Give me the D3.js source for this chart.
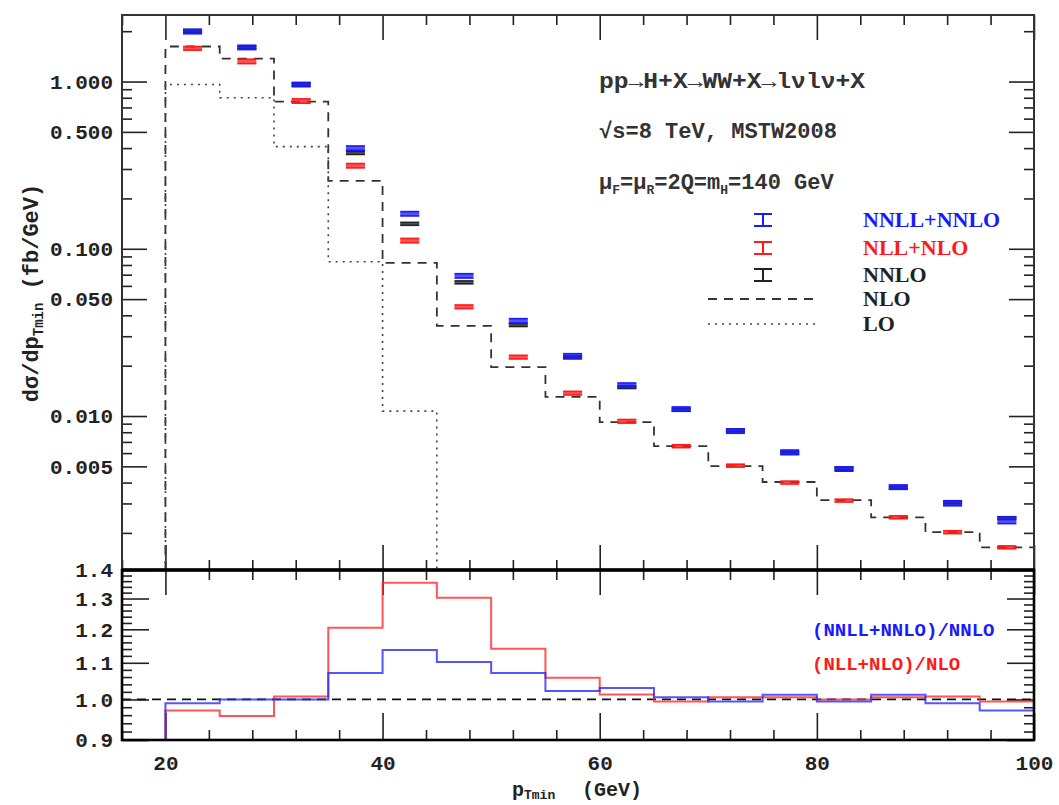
<!DOCTYPE html>
<html><head><meta charset="utf-8">
<script src="https://cdn.jsdelivr.net/npm/d3@7/dist/d3.min.js"></script>
<style>body{margin:0;background:#fff}svg{display:block}</style>
</head><body>
<svg id="chart" width="1059" height="805"></svg>
<script>
// ---------------- data ----------------
const binEdges   = [20,25,30,35,40,45,50,55,60,65,70,75,80,85,90,95,100];
const binCenters = [22.5,27.5,32.5,37.5,42.5,47.5,52.5,57.5,62.5,67.5,72.5,77.5,82.5,87.5,92.5,97.5];
const nnllNnlo = [1.99,1.60,0.96,0.40,0.162,0.0689,0.0371,0.0229,0.0153,0.0110,0.00813,0.00608,0.00482,0.00376,0.00301,0.00238];
const nllNlo   = [1.58,1.32,0.765,0.314,0.112,0.045,0.0225,0.0137,0.0093,0.0066,0.00505,0.00400,0.00312,0.00248,0.00202,0.00164];
const nnlo     = [2.01,1.60,0.96,0.374,0.141,0.0630,0.0350,0.0224,0.0149,0.0109,0.0082,0.0060,0.00485,0.00372,0.00304,0.00245];
const nlo      = [1.62,1.37,0.759,0.255,0.0824,0.0346,0.0196,0.0130,0.0092,0.0066,0.00502,0.00403,0.00314,0.00248,0.00202,0.00164];
const loEdges  = [20,25,30,35,40,45];
const lo       = [0.96,0.80,0.408,0.0836,0.0107];
const errNnllNnlo = [0.03,0.03,0.03,0.03,0.03,0.03,0.03,0.03,0.03,0.03,0.03,0.03,0.03,0.03,0.035,0.045];
const errNllNlo   = [0.025,0.03,0.03,0.03,0.03,0.025,0.025,0.025,0.025,0.02,0.02,0.02,0.02,0.02,0.02,0.02];
const errNnlo     = [0.02,0.02,0.02,0.02,0.02,0.02,0.02,0.02,0.02,0.02,0.02,0.02,0.02,0.02,0.02,0.02];
const ratioNnll = [0.990,1.000,1.000,1.071,1.137,1.102,1.071,1.022,1.030,1.006,0.995,1.012,0.995,1.012,0.990,0.972];
const ratioNll  = [0.972,0.958,1.008,1.205,1.354,1.303,1.141,1.058,1.013,0.995,1.006,1.006,1.000,1.006,1.008,0.995];
const xTickLabels     = [20,40,60,80,100];
const yTopTickLabels  = [0.005,0.010,0.050,0.100,0.500,1.000];
const yBotTickLabels  = [0.9,1.0,1.1,1.2,1.3,1.4];
const legendLabels = ["NNLL+NNLO","NLL+NLO","NNLO","NLO","LO"];
const ratioLabels  = ["(NNLL+NNLO)/NNLO","(NLL+NLO)/NLO"];

// ---------------- setup ----------------
const svg = d3.select("#chart");
const L = 122, R = 1034, T = 15, MID = 570, B = 740;
const x  = d3.scaleLinear().domain([16,100]).range([L,R]);
const yT = d3.scaleLog().domain([0.0012,2.5]).range([MID,T]);
const yB = d3.scaleLog().domain([0.9,1.4]).range([B,MID]);

const BLUE = "#1a1aff", RED = "#ff1a1a";
const MONO = "'Liberation Mono','DejaVu Sans Mono',monospace";
const SERIF = "'Liberation Serif','DejaVu Serif',serif";

// tick value sets
const xMinor = d3.range(16,101,4).filter(v => !xTickLabels.includes(v));
const yTopMinor = [];
[0.001,0.01,0.1,1].forEach(dec => [2,3,4,6,7,8,9].forEach(k => {
  const v = +(k*dec).toPrecision(3);
  if (v >= yT.domain()[0] && v <= yT.domain()[1]) yTopMinor.push(v);
}));
const yBotMinor = d3.range(0.92,1.40,0.02).map(v => +v.toFixed(2)).filter(v => Math.abs(v*10 - Math.round(v*10)) > 1e-6);

function tickGroup(axisGen, scale, values, size, tx, ty) {
  const g = svg.append("g").attr("transform", `translate(${tx},${ty})`)
    .call(axisGen(scale).tickValues(values).tickSize(size).tickFormat(""));
  g.select(".domain").remove();
  g.selectAll("line").attr("stroke","#222").attr("stroke-width",1.6);
  return g;
}

// ---------------- upper panel ticks ----------------
tickGroup(d3.axisRight, yT, yTopTickLabels, 25, L, 0);
tickGroup(d3.axisRight, yT, yTopMinor, 10, L, 0);
tickGroup(d3.axisLeft,  yT, yTopTickLabels, 25, R, 0);
tickGroup(d3.axisLeft,  yT, yTopMinor, 10, R, 0);
tickGroup(d3.axisBottom, x, xTickLabels, 25, 0, T);
tickGroup(d3.axisBottom, x, xMinor, 10, 0, T);
tickGroup(d3.axisTop, x, xTickLabels, 25, 0, MID);
tickGroup(d3.axisTop, x, xMinor, 10, 0, MID);
// ---------------- lower panel ticks ----------------
tickGroup(d3.axisRight, yB, yBotTickLabels, 27, L, 0);
tickGroup(d3.axisRight, yB, yBotMinor, 10, L, 0);
tickGroup(d3.axisLeft,  yB, yBotTickLabels, 27, R, 0);
tickGroup(d3.axisLeft,  yB, yBotMinor, 10, R, 0);
tickGroup(d3.axisBottom, x, xTickLabels, 25, 0, MID);
tickGroup(d3.axisBottom, x, xMinor, 10, 0, MID);
tickGroup(d3.axisTop, x, xTickLabels, 27, 0, B);
tickGroup(d3.axisTop, x, xMinor, 10, 0, B);

// tick labels
function labelAxis(axisGen, scale, values, fmt, pad, tx, ty) {
  const g = svg.append("g").attr("transform", `translate(${tx},${ty})`)
    .call(axisGen(scale).tickValues(values).tickSize(0).tickPadding(pad).tickFormat(fmt));
  g.select(".domain").remove();
  g.selectAll("text").attr("font-family", MONO).attr("font-weight","bold")
    .attr("font-size", 21).attr("fill","#222");
  return g;
}
labelAxis(d3.axisLeft, yT, yTopTickLabels, d3.format(".3f"), 9, L, 0);
labelAxis(d3.axisLeft, yB, yBotTickLabels, d3.format(".1f"), 9, L, 0);
labelAxis(d3.axisBottom, x, xTickLabels, d3.format("d"), 15, 0, B);

// ---------------- upper panel curves ----------------
function stepPoints(edges, vals, scaleY) {
  const pts = [[edges[0], scaleY.domain()[0]]];
  vals.forEach((v,i) => pts.push([edges[i], v]));
  pts.push([edges[vals.length], vals[vals.length-1]]);
  return pts;
}
svg.append("clipPath").attr("id","clipT").append("rect")
  .attr("x",L).attr("y",T).attr("width",R-L).attr("height",MID-T);
const lineT = d3.line().x(d => x(d[0])).y(d => yT(d[1])).curve(d3.curveStepAfter);

// NLO dashed
svg.append("path").attr("clip-path","url(#clipT)")
  .attr("d", lineT(stepPoints(binEdges, nlo, yT)))
  .attr("fill","none").attr("stroke","#333").attr("stroke-width",1.8)
  .attr("stroke-dasharray","9,7");
// LO dotted (drops to bottom after last bin)
const loPts = stepPoints(loEdges, lo, yT);
loPts.push([loEdges[loEdges.length-1], yT.domain()[0]]);
svg.append("path").attr("clip-path","url(#clipT)")
  .attr("d", lineT(loPts))
  .attr("fill","none").attr("stroke","#444").attr("stroke-width",1.6)
  .attr("stroke-dasharray","2,5");

// error-bar markers
const HW = 9.5;
function markers(vals, errs, color) {
  const g = svg.append("g").attr("clip-path","url(#clipT)");
  vals.forEach((v,i) => {
    const cx = x(binCenters[i]);
    const y1 = yT(v*(1+errs[i])), y2 = yT(v*(1-errs[i]));
    const m = g.append("g").attr("stroke",color).attr("stroke-width",1.6).attr("fill","none");
    m.append("rect").attr("x",cx-HW).attr("y",y1).attr("width",2*HW).attr("height",Math.max(0,y2-y1))
      .attr("fill",color).attr("fill-opacity",0.75).attr("stroke","none");
    m.append("line").attr("x1",cx-HW).attr("x2",cx+HW).attr("y1",y1).attr("y2",y1);
    m.append("line").attr("x1",cx-HW).attr("x2",cx+HW).attr("y1",y2).attr("y2",y2);
  });
}
markers(nnlo, errNnlo, "#222");
markers(nllNlo, errNllNlo, RED);
markers(nnllNnlo, errNnllNnlo, BLUE);

// ---------------- lower panel ----------------
svg.append("clipPath").attr("id","clipB").append("rect")
  .attr("x",L).attr("y",MID).attr("width",R-L).attr("height",B-MID);
const lineB = d3.line().x(d => x(d[0])).y(d => yB(d[1])).curve(d3.curveStepAfter);
svg.append("line").attr("x1",x(x.domain()[0])).attr("x2",x(x.domain()[1]))
  .attr("y1",yB(1)).attr("y2",yB(1))
  .attr("stroke","#111").attr("stroke-width",1.8).attr("stroke-dasharray","9,6");
function ratioPath(vals, color) {
  const pts = [[x.domain()[0], yB.domain()[0]]].concat(stepPoints(binEdges, vals, yB));
  svg.append("path").attr("clip-path","url(#clipB)").attr("d", lineB(pts))
    .attr("fill","none").attr("stroke",color).attr("stroke-width",2).attr("stroke-opacity",0.8);
}
ratioPath(ratioNll, "#ff2a2a");
ratioPath(ratioNnll, "#2a2aff");

// ---------------- frames ----------------
svg.append("rect").attr("x",L).attr("y",T).attr("width",R-L).attr("height",MID-T)
  .attr("fill","none").attr("stroke","#333").attr("stroke-width",2);
svg.append("rect").attr("x",L).attr("y",MID).attr("width",R-L).attr("height",B-MID)
  .attr("fill","none").attr("stroke","#000").attr("stroke-width",2.6);
svg.append("line").attr("x1",L).attr("x2",R).attr("y1",MID).attr("y2",MID)
  .attr("stroke","#000").attr("stroke-width",3.5);

// ---------------- annotation ----------------
const ann = svg.append("g").attr("font-family",MONO).attr("font-size",22).attr("fill","#333").attr("font-weight","bold");
ann.append("text").attr("x",599).attr("y",88).attr("textLength",266).attr("lengthAdjust","spacingAndGlyphs")
  .text("pp→H+X→WW+X→lνlν+X");
ann.append("text").attr("x",599).attr("y",138).attr("textLength",238).attr("lengthAdjust","spacingAndGlyphs")
  .text("√s=8 TeV, MSTW2008");
const t3 = ann.append("text").attr("x",599).attr("y",189);
t3.append("tspan").text("μ");
t3.append("tspan").attr("font-size",13).attr("dy",5).text("F");
t3.append("tspan").attr("dy",-5).text("=μ");
t3.append("tspan").attr("font-size",13).attr("dy",5).text("R");
t3.append("tspan").attr("dy",-5).text("=2Q=m");
t3.append("tspan").attr("font-size",13).attr("dy",5).text("H");
t3.append("tspan").attr("dy",-5).text("=140 GeV");

// ---------------- legend ----------------
const lg = svg.append("g");
const legColors = [BLUE, RED, "#222", "#222", "#222"];
const legY = [220, 248, 275, 299, 324];
legendLabels.forEach((lab,i) => {
  lg.append("text").attr("x",863).attr("y",legY[i]+7).attr("font-family",SERIF).attr("font-weight","bold")
    .attr("font-size",22).attr("fill",legColors[i]).text(lab);
});
[0,1,2].forEach(i => {
  const g = lg.append("g").attr("stroke",legColors[i]).attr("stroke-width",2);
  const cx = 763, cy = legY[i];
  g.append("line").attr("x1",cx-9).attr("x2",cx+9).attr("y1",cy-6).attr("y2",cy-6);
  g.append("line").attr("x1",cx-9).attr("x2",cx+9).attr("y1",cy+6).attr("y2",cy+6);
  g.append("line").attr("x1",cx).attr("x2",cx).attr("y1",cy-6).attr("y2",cy+6);
});
lg.append("line").attr("x1",708).attr("x2",816).attr("y1",legY[3]).attr("y2",legY[3])
  .attr("stroke","#333").attr("stroke-width",1.8).attr("stroke-dasharray","9,7");
lg.append("line").attr("x1",708).attr("x2",816).attr("y1",legY[4]).attr("y2",legY[4])
  .attr("stroke","#444").attr("stroke-width",1.6).attr("stroke-dasharray","2,5");

// ratio labels
const rl = svg.append("g").attr("font-family",MONO).attr("font-weight","bold").attr("font-size",19);
rl.append("text").attr("x",812).attr("y",636).attr("fill",BLUE).text(ratioLabels[0]);
rl.append("text").attr("x",812).attr("y",670).attr("fill",RED).text(ratioLabels[1]);

// ---------------- axis titles ----------------
const yl = svg.append("text").attr("transform","translate(38,293) rotate(-90)")
  .attr("text-anchor","middle").attr("font-family",MONO).attr("font-weight","bold")
  .attr("font-size",22).attr("fill","#222");
yl.append("tspan").text("dσ/dp");
yl.append("tspan").attr("font-size",14).attr("dy",5).text("Tmin");
yl.append("tspan").attr("dy",-5).text(" (fb/GeV)");

const xl = svg.append("text").attr("x",512).attr("y",796).attr("font-family",MONO).attr("font-weight","bold")
  .attr("font-size",20).attr("fill","#222");
xl.append("tspan").text("p");
xl.append("tspan").attr("font-size",13).attr("dy",3).text("Tmin");
xl.append("tspan").attr("dy",-3).attr("x",582).text("(GeV)");
</script>
</body></html>
